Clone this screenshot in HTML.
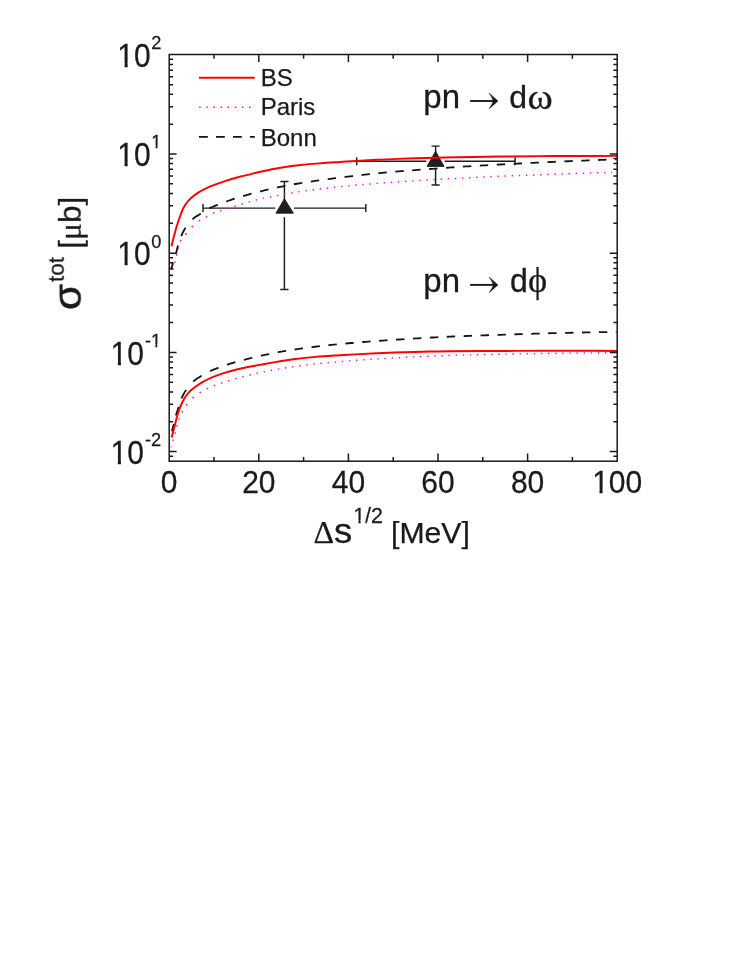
<!DOCTYPE html>
<html lang="en"><head><meta charset="utf-8"><title>pn to d omega / d phi total cross section</title>
<style>html,body{margin:0;padding:0;background:#fff;}svg{display:block;}</style></head>
<body>
<svg width="741" height="959" viewBox="0 0 741 959">
<rect width="741" height="959" fill="#fff"/>
<path d="M203.0 208.1H275.3 M294.0 208.1H365.8 M203.0 204.1V212.1 M365.8 204.1V212.1 M284.4 181.4V200.2 M284.4 217.2V289.5 M280.3 181.4H288.5 M280.3 289.5H288.5" stroke="#1c1c1c" stroke-width="1.45" fill="none"/>
<path d="M284.4 198.7L293.4 213.2L275.9 213.2Z" fill="#1f1f1f" stroke="#121212" stroke-width="0.8" stroke-linejoin="miter"/>
<path d="M356.7 161.2H426.4 M444.7 161.2H515.1 M356.7 157.2V165.2 M515.1 157.2V165.2 M435.6 146.1V152.7 M435.6 167.9V184.9 M431.5 146.1H439.7 M431.5 184.9H439.7" stroke="#1c1c1c" stroke-width="1.45" fill="none"/>
<path d="M435.6 151.2L444.1 166.4L427.0 166.4Z" fill="#1f1f1f" stroke="#121212" stroke-width="0.8" stroke-linejoin="miter"/>
<path d="M171.30 276.40 L171.48 275.70 M172.97 269.99 L173.33 268.59 M174.78 262.88 L175.13 261.48 M176.56 255.77 L176.91 254.37 M178.31 248.66 L178.70 247.26 M180.40 241.54 L181.10 240.14 M185.33 234.43 L186.49 233.03 M191.66 227.33 L193.06 225.99 M198.77 221.21 L200.17 220.25 M205.88 217.12 L207.28 216.35 M213.00 213.33 L214.40 212.76 M220.11 210.91 L221.51 210.46 M227.22 208.62 L228.62 208.18 M234.33 206.41 L235.73 205.98 M241.44 204.22 L242.84 203.80 M248.55 202.08 L249.95 201.67 M255.66 200.09 L257.06 199.74 M262.77 198.39 L264.17 198.09 M269.88 196.95 L271.28 196.69 M276.99 195.65 L278.39 195.39 M284.11 194.35 L285.51 194.09 M291.22 193.04 L292.62 192.80 M298.33 191.82 L299.73 191.60 M305.44 190.75 L306.84 190.56 M312.55 189.82 L313.95 189.65 M319.66 188.98 L321.06 188.82 M326.77 188.20 L328.17 188.04 M333.88 187.43 L335.28 187.27 M340.99 186.64 L342.39 186.49 M348.10 185.88 L349.50 185.73 M355.22 185.18 L356.62 185.05 M362.33 184.57 L363.73 184.46 M369.44 184.02 L370.84 183.92 M376.55 183.49 L377.95 183.39 M383.66 182.96 L385.06 182.85 M390.77 182.41 L392.17 182.30 M397.88 181.87 L399.28 181.76 M404.99 181.35 L406.39 181.25 M412.10 180.87 L413.50 180.78 M419.21 180.44 L420.61 180.36 M426.33 180.04 L427.73 179.96 M433.44 179.64 L434.84 179.56 M440.55 179.26 L441.95 179.19 M447.66 178.89 L449.06 178.82 M454.77 178.52 L456.17 178.44 M461.88 178.12 L463.28 178.04 M468.99 177.72 L470.39 177.64 M476.10 177.33 L477.50 177.25 M483.21 176.96 L484.61 176.89 M490.32 176.63 L491.72 176.57 M497.44 176.33 L498.84 176.27 M504.55 176.05 L505.95 176.00 M511.66 175.79 L513.06 175.74 M518.77 175.52 L520.17 175.47 M525.88 175.26 L527.28 175.21 M532.99 175.02 L534.39 174.97 M540.10 174.78 L541.50 174.74 M547.21 174.54 L548.61 174.49 M554.32 174.28 L555.72 174.23 M561.43 174.02 L562.83 173.97 M568.55 173.75 L569.95 173.70 M575.66 173.50 L577.06 173.45 M582.77 173.26 L584.17 173.21 M589.88 173.03 L591.28 172.99 M596.99 172.82 L598.39 172.78 M604.10 172.62 L605.50 172.58 M611.21 172.42 L612.10 172.40" fill="none" stroke="#ff00ff" stroke-width="1.45"/>
<path d="M171.30 447.30 L171.48 446.60 M172.94 440.89 L173.32 439.49 M174.94 433.78 L175.32 432.38 M176.84 426.67 L177.24 425.27 M179.03 419.56 L179.54 418.16 M181.92 412.44 L182.64 411.05 M186.15 405.33 L187.22 403.93 M192.48 398.27 L193.88 397.02 M199.59 392.89 L200.99 392.01 M206.70 388.94 L208.10 388.26 M213.81 385.73 L215.21 385.19 M220.92 383.31 L222.32 382.85 M228.04 381.02 L229.44 380.58 M235.15 378.86 L236.55 378.45 M242.26 376.86 L243.66 376.49 M249.37 375.05 L250.77 374.70 M256.48 373.38 L257.88 373.06 M263.59 371.84 L264.99 371.55 M270.70 370.43 L272.10 370.17 M277.81 369.16 L279.21 368.92 M284.92 367.98 L286.32 367.76 M292.03 366.90 L293.43 366.70 M299.15 365.94 L300.55 365.77 M306.26 365.07 L307.66 364.90 M313.37 364.23 L314.77 364.07 M320.48 363.45 L321.88 363.31 M327.59 362.76 L328.99 362.62 M334.70 362.11 L336.10 361.98 M341.81 361.49 L343.21 361.37 M348.92 360.89 L350.32 360.78 M356.03 360.34 L357.43 360.24 M363.14 359.85 L364.54 359.76 M370.26 359.40 L371.66 359.31 M377.37 358.96 L378.77 358.88 M384.48 358.54 L385.88 358.46 M391.59 358.13 L392.99 358.05 M398.70 357.71 L400.10 357.63 M405.81 357.30 L407.21 357.22 M412.92 356.94 L414.32 356.87 M420.03 356.63 L421.43 356.57 M427.14 356.33 L428.54 356.28 M434.25 356.06 L435.65 356.01 M441.37 355.80 L442.77 355.75 M448.48 355.56 L449.88 355.51 M455.59 355.33 L456.99 355.29 M462.70 355.12 L464.10 355.08 M469.81 354.92 L471.21 354.88 M476.92 354.73 L478.32 354.69 M484.03 354.56 L485.43 354.53 M491.14 354.42 L492.54 354.39 M498.25 354.28 L499.65 354.26 M505.36 354.15 L506.76 354.12 M512.48 354.02 L513.88 353.99 M519.59 353.89 L520.99 353.86 M526.70 353.75 L528.10 353.72 M533.81 353.62 L535.21 353.60 M540.92 353.51 L542.32 353.49 M548.03 353.41 L549.43 353.39 M555.14 353.31 L556.54 353.29 M562.25 353.21 L563.65 353.19 M569.36 353.11 L570.76 353.09 M576.47 353.02 L577.87 353.00 M583.59 352.94 L584.99 352.93 M590.70 352.88 L592.10 352.87 M597.81 352.84 L599.21 352.83 M604.92 352.81 L606.32 352.81 M612.03 352.80 L612.90 352.80" fill="none" stroke="#ff00ff" stroke-width="1.45"/>
<path d="M171.30 269.70 L171.52 268.77 L171.75 267.76 L172.02 266.57 L172.34 265.25 L172.70 263.86 L173.12 262.40 M175.84 253.89 L176.30 252.34 L176.64 251.02 L176.92 249.83 L177.17 248.69 L177.42 247.56 L177.72 246.37 L177.97 245.49 M181.25 236.14 L181.39 235.80 L181.96 234.44 L182.54 233.11 L183.16 231.80 L183.85 230.47 L184.65 229.10 L185.54 227.74 M192.44 219.27 L194.08 217.92 L195.60 216.86 L197.16 215.87 L198.73 214.93 L200.28 214.00 L200.84 213.65 M209.34 208.39 L210.91 207.60 L212.22 207.00 L213.50 206.46 L214.79 205.95 L216.10 205.44 L217.74 204.80 M226.25 201.53 L227.75 200.99 L229.10 200.52 L230.42 200.07 L231.74 199.63 L233.07 199.19 L234.65 198.68 M243.15 196.10 L244.72 195.64 L245.98 195.28 L247.20 194.93 L248.45 194.57 L249.82 194.20 L251.55 193.73 M260.06 191.49 L260.41 191.40 L262.76 190.82 L265.23 190.22 L267.89 189.60 L268.46 189.47 M276.96 187.55 L277.37 187.46 L280.28 186.84 L283.09 186.27 L285.36 185.82 M293.87 184.25 L296.81 183.74 L299.61 183.27 L302.27 182.84 M310.77 181.55 L313.89 181.09 L316.70 180.69 L319.17 180.34 M327.68 179.19 L330.59 178.81 L333.42 178.44 L336.08 178.09 M344.58 177.02 L344.93 176.98 L347.79 176.63 L350.60 176.29 L352.98 176.01 M361.49 175.03 L364.41 174.71 L367.19 174.41 L369.89 174.13 M378.39 173.26 L379.08 173.19 L381.90 172.92 L384.72 172.65 L386.79 172.46 M395.30 171.69 L398.19 171.44 L401.01 171.20 L403.70 170.98 M412.20 170.30 L415.08 170.07 L417.93 169.85 L420.60 169.65 M429.11 169.03 L429.52 169.00 L432.39 168.79 L435.20 168.59 L437.51 168.42 M446.01 167.82 L448.90 167.62 L451.71 167.43 L454.41 167.24 M462.92 166.67 L466.07 166.47 L468.92 166.29 L471.32 166.14 M479.82 165.62 L480.17 165.60 L482.99 165.44 L485.82 165.28 L488.22 165.14 M496.73 164.68 L497.24 164.66 L500.08 164.51 L502.91 164.36 L505.13 164.24 M513.63 163.81 L514.09 163.79 L516.89 163.65 L519.71 163.51 L522.03 163.39 M530.54 162.96 L531.06 162.94 L533.89 162.80 L536.71 162.66 L538.94 162.55 M547.44 162.14 L547.90 162.12 L550.70 161.99 L553.50 161.86 L555.84 161.75 M564.35 161.37 L564.77 161.35 L567.59 161.23 L570.41 161.11 L572.75 161.01 M581.25 160.66 L581.68 160.65 L584.50 160.53 L587.31 160.42 L589.65 160.33 M598.16 160.00 L598.71 159.98 L601.41 159.87 L604.00 159.78 L606.56 159.68 M615.06 159.35 L615.46 159.34 L616.50 159.30" fill="none" stroke="#141414" stroke-width="1.8"/>
<path d="M171.90 431.20 L172.13 430.33 L172.38 429.38 L172.68 428.26 L173.00 427.03 L173.34 425.71 L173.69 424.36 L173.80 423.90 M175.89 415.39 L176.31 413.95 L176.73 412.66 L177.15 411.43 L177.58 410.22 L178.02 408.97 L178.48 407.65 L178.70 407.00 M181.50 398.49 L182.15 396.99 L182.74 395.72 L183.35 394.52 L184.02 393.34 L184.77 392.12 L185.62 390.84 L186.15 390.09 M193.17 381.60 L194.47 380.45 L195.75 379.47 L197.04 378.59 L198.36 377.76 L199.71 376.94 L201.10 376.10 L201.57 375.81 M210.08 371.16 L211.57 370.47 L212.89 369.91 L214.16 369.40 L215.44 368.91 L216.74 368.43 L218.10 367.92 L218.48 367.78 M226.98 364.73 L228.39 364.27 L229.73 363.84 L231.06 363.43 L232.38 363.03 L233.72 362.64 L235.38 362.16 M243.89 359.87 L245.25 359.52 L246.51 359.19 L247.75 358.87 L249.05 358.54 L250.47 358.19 L252.29 357.75 M260.79 355.75 L261.29 355.63 L263.67 355.11 L266.18 354.58 L268.88 354.03 L269.19 353.97 M277.70 352.31 L278.38 352.19 L281.29 351.66 L284.12 351.16 L286.10 350.83 M294.60 349.49 L297.50 349.07 L300.30 348.66 L303.00 348.29 M311.51 347.19 L312.19 347.11 L315.00 346.76 L317.81 346.43 L319.91 346.18 M328.41 345.24 L331.28 344.94 L334.12 344.64 L336.81 344.37 M345.32 343.55 L348.40 343.26 L351.19 343.01 L353.72 342.78 M362.22 342.07 L362.83 342.02 L365.60 341.79 L368.41 341.57 L370.62 341.41 M379.13 340.78 L379.84 340.73 L382.69 340.53 L385.52 340.34 L387.53 340.21 M396.03 339.66 L398.89 339.48 L401.71 339.30 L404.43 339.13 M412.94 338.62 L415.79 338.45 L418.61 338.29 L421.34 338.13 M429.84 337.66 L432.79 337.50 L435.60 337.35 L438.24 337.22 M446.75 336.81 L447.41 336.77 L450.20 336.65 L453.01 336.52 L455.15 336.43 M463.65 336.09 L466.49 335.98 L469.31 335.87 L472.05 335.77 M480.56 335.47 L481.19 335.45 L484.00 335.36 L486.82 335.26 L488.96 335.19 M497.46 334.91 L498.16 334.89 L500.99 334.79 L503.82 334.70 L505.86 334.63 M514.37 334.34 L517.19 334.25 L520.01 334.15 L522.77 334.06 M531.27 333.78 L534.09 333.69 L536.91 333.61 L539.67 333.53 M548.18 333.29 L548.88 333.27 L551.70 333.19 L554.51 333.12 L556.58 333.07 M565.08 332.87 L565.78 332.86 L568.60 332.80 L571.41 332.74 L573.48 332.69 M581.99 332.52 L582.68 332.50 L585.50 332.45 L588.34 332.39 L590.39 332.35 M598.89 332.20 L601.81 332.14 L604.38 332.10 L607.29 332.05 M615.80 331.91 L616.50 331.90" fill="none" stroke="#141414" stroke-width="1.8"/>
<path d="M171.50 246.20 C171.88 244.65 172.93 240.22 173.80 236.90 C174.67 233.58 175.63 229.78 176.70 226.30 C177.77 222.82 179.09 219.06 180.20 216.00 C181.31 212.94 182.17 210.30 183.39 207.93 C184.60 205.55 186.11 203.50 187.50 201.75 C188.89 200.00 189.98 198.90 191.70 197.42 C193.42 195.93 195.57 194.27 197.80 192.84 C200.03 191.41 202.47 190.11 205.10 188.83 C207.73 187.56 210.17 186.52 213.60 185.19 C217.03 183.86 221.65 182.18 225.70 180.85 C229.75 179.53 233.85 178.32 237.90 177.24 C241.95 176.15 246.28 175.26 250.00 174.34 C253.72 173.43 255.12 172.87 260.20 171.76 C265.28 170.66 273.75 168.84 280.50 167.71 C287.25 166.57 293.95 165.70 300.70 164.95 C307.45 164.21 314.45 163.72 321.00 163.23 C327.55 162.74 334.13 162.38 340.00 162.01 C345.87 161.63 349.45 161.38 356.20 160.98 C362.95 160.58 371.95 160.03 380.50 159.63 C389.05 159.23 398.50 158.88 407.50 158.57 C416.50 158.27 423.47 158.09 434.50 157.82 C445.53 157.56 461.53 157.20 473.70 156.97 C485.87 156.74 496.45 156.58 507.50 156.45 C518.55 156.31 529.50 156.22 540.00 156.15 C550.50 156.07 557.67 156.05 570.50 156.01 C583.33 155.97 609.25 155.92 617.00 155.90" fill="none" stroke="#ff0000" stroke-width="1.95"/>
<path d="M171.65 437.60 C171.97 436.38 172.90 432.87 173.55 430.30 C174.20 427.73 174.88 424.75 175.55 422.20 C176.22 419.65 176.82 417.42 177.55 415.00 C178.28 412.58 179.07 410.00 179.95 407.70 C180.83 405.40 181.83 403.18 182.85 401.20 C183.87 399.22 184.86 397.51 186.08 395.80 C187.31 394.09 188.46 392.58 190.20 390.93 C191.94 389.28 194.38 387.44 196.50 385.93 C198.62 384.41 200.42 383.24 202.90 381.86 C205.38 380.48 207.95 379.11 211.40 377.65 C214.85 376.20 219.55 374.46 223.60 373.13 C227.65 371.81 231.65 370.72 235.70 369.71 C239.75 368.69 243.85 367.85 247.90 367.05 C251.95 366.25 255.45 365.72 260.00 364.90 C264.55 364.08 269.28 363.11 275.20 362.14 C281.12 361.17 288.75 359.94 295.50 359.07 C302.25 358.20 308.95 357.50 315.70 356.90 C322.45 356.30 329.47 355.87 336.00 355.45 C342.53 355.04 348.07 354.75 354.90 354.39 C361.73 354.03 368.82 353.66 377.00 353.30 C385.18 352.95 395.00 352.56 404.00 352.27 C413.00 351.99 423.33 351.75 431.00 351.59 C438.67 351.43 439.33 351.41 450.00 351.31 C460.67 351.21 479.17 351.06 495.00 350.98 C510.83 350.90 530.83 350.85 545.00 350.82 C559.17 350.79 568.00 350.81 580.00 350.82 C592.00 350.84 610.83 350.89 617.00 350.90" fill="none" stroke="#ff0000" stroke-width="1.95"/>
<rect x="169.20" y="54.50" width="448.00" height="406.70" stroke="#1a1a1a" stroke-width="1.50" fill="none"/>
<path d="M214.00 461.20v-4.30 M214.00 54.50v4.30 M258.80 461.20v-7.60 M258.80 54.50v7.60 M303.60 461.20v-4.30 M303.60 54.50v4.30 M348.40 461.20v-7.60 M348.40 54.50v7.60 M393.20 461.20v-4.30 M393.20 54.50v4.30 M438.00 461.20v-7.60 M438.00 54.50v7.60 M482.80 461.20v-4.30 M482.80 54.50v4.30 M527.60 461.20v-7.60 M527.60 54.50v7.60 M572.40 461.20v-4.30 M572.40 54.50v4.30 M169.20 456.14h3.80 M617.20 456.14h-3.80 M169.20 451.60h7.40 M617.20 451.60h-7.40 M169.20 421.74h3.80 M617.20 421.74h-3.80 M169.20 404.27h3.80 M617.20 404.27h-3.80 M169.20 391.88h3.80 M617.20 391.88h-3.80 M169.20 382.26h3.80 M617.20 382.26h-3.80 M169.20 374.41h3.80 M617.20 374.41h-3.80 M169.20 367.77h3.80 M617.20 367.77h-3.80 M169.20 362.01h3.80 M617.20 362.01h-3.80 M169.20 356.94h3.80 M617.20 356.94h-3.80 M169.20 352.40h7.40 M617.20 352.40h-7.40 M169.20 322.54h3.80 M617.20 322.54h-3.80 M169.20 305.07h3.80 M617.20 305.07h-3.80 M169.20 292.68h3.80 M617.20 292.68h-3.80 M169.20 283.06h3.80 M617.20 283.06h-3.80 M169.20 275.21h3.80 M617.20 275.21h-3.80 M169.20 268.57h3.80 M617.20 268.57h-3.80 M169.20 262.81h3.80 M617.20 262.81h-3.80 M169.20 257.74h3.80 M617.20 257.74h-3.80 M169.20 253.20h7.40 M617.20 253.20h-7.40 M169.20 223.34h3.80 M617.20 223.34h-3.80 M169.20 205.87h3.80 M617.20 205.87h-3.80 M169.20 193.48h3.80 M617.20 193.48h-3.80 M169.20 183.86h3.80 M617.20 183.86h-3.80 M169.20 176.01h3.80 M617.20 176.01h-3.80 M169.20 169.37h3.80 M617.20 169.37h-3.80 M169.20 163.61h3.80 M617.20 163.61h-3.80 M169.20 158.54h3.80 M617.20 158.54h-3.80 M169.20 154.00h7.40 M617.20 154.00h-7.40 M169.20 124.14h3.80 M617.20 124.14h-3.80 M169.20 106.67h3.80 M617.20 106.67h-3.80 M169.20 94.28h3.80 M617.20 94.28h-3.80 M169.20 84.66h3.80 M617.20 84.66h-3.80 M169.20 76.81h3.80 M617.20 76.81h-3.80 M169.20 70.17h3.80 M617.20 70.17h-3.80 M169.20 64.41h3.80 M617.20 64.41h-3.80 M169.20 59.34h3.80 M617.20 59.34h-3.80" stroke="#1a1a1a" stroke-width="1.50" fill="none"/>
<g fill="#1a1a1a" style="font-family:'Liberation Sans',sans-serif" opacity="0.999" stroke="#1a1a1a" stroke-width="0.25">
<text transform="translate(169.20 493.30) scale(1 1.070)" font-size="30.00" text-anchor="middle">0</text>
<text transform="translate(258.80 493.30) scale(1 1.070)" font-size="30.00" text-anchor="middle">20</text>
<text transform="translate(348.40 493.30) scale(1 1.070)" font-size="30.00" text-anchor="middle">40</text>
<text transform="translate(438.00 493.30) scale(1 1.070)" font-size="30.00" text-anchor="middle">60</text>
<text transform="translate(527.60 493.30) scale(1 1.070)" font-size="30.00" text-anchor="middle">80</text>
<text transform="translate(617.20 493.30) scale(1 1.070)" font-size="30.00" text-anchor="middle">100</text>
<text transform="translate(150.60 67.00) scale(1 1.080)" font-size="30.00" text-anchor="end">10</text>
<text transform="translate(151.20 49.20) scale(1 1.040)" font-size="18.20" text-anchor="start">2</text>
<text transform="translate(150.60 166.20) scale(1 1.080)" font-size="30.00" text-anchor="end">10</text>
<text transform="translate(151.20 148.40) scale(1 1.040)" font-size="18.20" text-anchor="start">1</text>
<text transform="translate(150.60 265.40) scale(1 1.080)" font-size="30.00" text-anchor="end">10</text>
<text transform="translate(151.20 247.60) scale(1 1.040)" font-size="18.20" text-anchor="start">0</text>
<text transform="translate(143.90 364.60) scale(1 1.080)" font-size="30.00" text-anchor="end">10</text>
<text transform="translate(144.90 346.80) scale(1 1.040)" font-size="18.20" text-anchor="start">-1</text>
<text transform="translate(143.90 463.80) scale(1 1.080)" font-size="30.00" text-anchor="end">10</text>
<text transform="translate(144.90 446.00) scale(1 1.040)" font-size="18.20" text-anchor="start">-2</text>
<text x="260.70" y="86.00" font-size="24.00" text-anchor="start">BS</text>
<text x="260.70" y="115.30" font-size="24.00" text-anchor="start">Paris</text>
<text x="260.70" y="145.50" font-size="24.00" text-anchor="start">Bonn</text>
<text x="423.30" y="107.80" font-size="33.00" text-anchor="start" stroke="#1a1a1a" stroke-width="0.3">pn</text>
<path d="M470.10 101.00H494.00" fill="none" stroke="#1a1a1a" stroke-width="1.9"/><path d="M498.00 101.00l-8.9 -7.9q3.5 5.2 4.1 7.9q-0.6 2.7 -4.1 7.9z" fill="#1a1a1a" stroke="#1a1a1a" stroke-width="0.5" stroke-linejoin="round"/>
<text x="509.20" y="107.80" font-size="32.00" text-anchor="start" stroke="#1a1a1a" stroke-width="0.3">d</text>
<text transform="translate(527.40 108.50) scale(1 0.950)" font-size="38.40" text-anchor="start" style="font-family:'Liberation Serif',serif" stroke="#1a1a1a" stroke-width="0.3">ω</text>
<text x="423.30" y="291.70" font-size="33.00" text-anchor="start" stroke="#1a1a1a" stroke-width="0.3">pn</text>
<path d="M470.10 284.90H494.00" fill="none" stroke="#1a1a1a" stroke-width="1.9"/><path d="M498.00 284.90l-8.9 -7.9q3.5 5.2 4.1 7.9q-0.6 2.7 -4.1 7.9z" fill="#1a1a1a" stroke="#1a1a1a" stroke-width="0.5" stroke-linejoin="round"/>
<text transform="translate(510.00 291.70) scale(1 1.020)" font-size="32.00" text-anchor="start" stroke="#1a1a1a" stroke-width="0.3">d</text>
<text x="527.90" y="291.90" font-size="36.40" text-anchor="start" style="font-family:'Liberation Serif',serif">ϕ</text>
<text x="313.50" y="543.20" font-size="32.00" text-anchor="start" style="font-family:'Liberation Serif',serif">Δ</text>
<text transform="translate(334.00 543.40) scale(1 0.950)" font-size="36.50" text-anchor="start" stroke="#1a1a1a" stroke-width="0.35">s</text>
<text transform="translate(353.20 523.00) scale(1 1.030)" font-size="21.40" text-anchor="start">1/2</text>
<text x="391.00" y="543.20" font-size="30.20" text-anchor="start">[MeV]</text>
<g transform="translate(80.8 310) rotate(-90)">
<text transform="scale(1.03 0.925)" x="0" y="0" font-size="41" stroke="#1a1a1a" stroke-width="0.55">σ</text>
<text x="28.0" y="-17.3" font-size="22.5">tot</text>
<text transform="translate(61.3 0) scale(1.015 0.992)" font-size="31">[<tspan style="font-family:'Liberation Serif',serif">μ</tspan>b]</text>
</g>
</g>
<rect x="592.66" y="489.60" width="6.82" height="5.60" fill="#fff"/>
<rect x="602.61" y="489.60" width="6.58" height="5.60" fill="#fff"/>
<rect x="117.71" y="63.28" width="6.82" height="5.62" fill="#fff"/>
<rect x="127.66" y="63.28" width="6.58" height="5.62" fill="#fff"/>
<rect x="117.71" y="162.48" width="6.82" height="5.62" fill="#fff"/>
<rect x="127.66" y="162.48" width="6.58" height="5.62" fill="#fff"/>
<rect x="151.49" y="145.69" width="4.14" height="4.61" fill="#fff"/>
<rect x="157.53" y="145.69" width="3.99" height="4.61" fill="#fff"/>
<rect x="117.71" y="261.68" width="6.82" height="5.62" fill="#fff"/>
<rect x="127.66" y="261.68" width="6.58" height="5.62" fill="#fff"/>
<rect x="111.01" y="360.88" width="6.82" height="5.62" fill="#fff"/>
<rect x="120.96" y="360.88" width="6.58" height="5.62" fill="#fff"/>
<rect x="151.26" y="344.09" width="4.14" height="4.61" fill="#fff"/>
<rect x="157.29" y="344.09" width="3.99" height="4.61" fill="#fff"/>
<rect x="111.01" y="460.08" width="6.82" height="5.62" fill="#fff"/>
<rect x="120.96" y="460.08" width="6.58" height="5.62" fill="#fff"/>
<rect x="353.55" y="520.05" width="4.86" height="4.85" fill="#fff"/>
<rect x="360.64" y="520.05" width="4.70" height="4.85" fill="#fff"/>
<path d="M199 77.8H254.8" stroke="#ff0000" stroke-width="1.95" fill="none"/>
<path d="M199.2 107.2H254.8" stroke="#ff00ff" stroke-width="1.5" stroke-dasharray="1.5 5.62" fill="none"/>
<path d="M199 136.9H254.8" stroke="#141414" stroke-width="1.8" stroke-dasharray="8.8 8.2" fill="none"/>
</svg>
</body></html>
